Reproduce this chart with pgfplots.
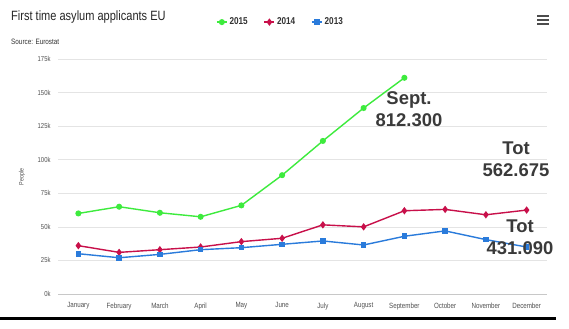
\documentclass[border=0pt]{standalone}
\usepackage{pgfplots}
\pgfplotsset{compat=1.18}
\usepackage{fontspec}
\setmainfont{Liberation Sans}
\newfontfamily\cond[FakeStretch=0.82]{Liberation Sans}
\definecolor{g15}{HTML}{3DEB3D}
\definecolor{r14}{HTML}{C8104A}
\definecolor{b13}{HTML}{2A7BDB}
\definecolor{gridc}{HTML}{E4E4E4}
\definecolor{axc}{HTML}{C8C8C8}
\definecolor{lab}{HTML}{505050}
\definecolor{annot}{HTML}{3A3A3A}
\newcommand{\annot}[2]{%
  \node[align=center, font=\bfseries\fontsize{18.5}{22}\selectfont, text=annot] at (#1) {#2};}
\begin{document}
\begin{tikzpicture}[x=1bp,y=1bp]
\fill[white] (0,0) rectangle (569,328);
\fill[black] (0,8) rectangle (556,11.5);
\node[anchor=west, font=\cond\fontsize{13.5}{15}\selectfont, text=black!85, inner sep=0] at (11,311) {First time asylum applicants EU};
\node[anchor=west, font=\cond\fontsize{7.8}{9}\selectfont, text=black!80, inner sep=0] at (11,286) {Source: Eurostat};
\foreach \yy in {304,308,312} \draw[line width=1.6bp, black!70] (537,\yy) -- (549,\yy);
\node[rotate=90, font=\cond\fontsize{6.5}{7}\selectfont, text=lab] at (22,151) {People};
\begin{axis}[
  at={(58bp,34bp)}, anchor=south west, scale only axis,
  width=489bp, height=235bp,
  xmin=-0.5, xmax=11.5, ymin=0, ymax=175000,
  axis x line*=bottom, axis y line*=left,
  y axis line style={draw=none},
  x axis line style={draw=axc, line width=0.6bp},
  ytick={0,25000,50000,75000,100000,125000,150000,175000},
  yticklabels={0k,25k,50k,75k,100k,125k,150k,175k},
  ytick style={draw=none},
  ymajorgrids, grid style={gridc, line width=0.7bp},
  yticklabel style={font=\cond\fontsize{7.2}{8}\selectfont, text=lab, xshift=-4bp},
  xtick={0,...,11},
  xticklabels={January,February,March,April,May,June,July,August,September,October,November,December},
  xticklabel style={font=\cond\fontsize{7.6}{8}\selectfont, text=lab, yshift=-5bp},
  xtick style={draw=none},
  extra x ticks={-0.5,0.5,...,11.5},
  extra x tick labels={},
  extra x tick style={tick style={draw=axc, line width=0.6bp}, major tick length=8bp, tick align=outside, grid=none},
  scaled y ticks=false,
  clip=false,
  legend columns=3,
  legend style={at={(0.455,1.157)}, anchor=center, draw=none, fill=none,
    font=\cond\bfseries\fontsize{10}{11}\selectfont, text=black!80,
    /tikz/every even column/.append style={column sep=14bp}},
  legend image code/.code={\draw[#1] (0bp,0bp) -- (10bp,0bp); \draw[#1, mark repeat=1] plot coordinates {(5bp,0bp)};},
]
\addplot[g15, line width=1.4bp, mark=*, mark size=2.3bp] coordinates {
(0,60000) (1,65000) (2,60500) (3,57500) (4,66000) (5,88500) (6,114000) (7,138500) (8,161000)};
\addlegendentry{2015}
\addplot[r14, line width=1.4bp, mark=diamond*, mark size=2.6bp] coordinates {
(0,36000) (1,31000) (2,33000) (3,35000) (4,39000) (5,41500) (6,51500) (7,50000) (8,62000) (9,63000) (10,59000) (11,62500)};
\addlegendentry{2014}
\addplot[b13, line width=1.4bp, mark=square*, mark size=2.1bp] coordinates {
(0,30000) (1,27000) (2,29500) (3,33000) (4,34500) (5,37000) (6,39500) (7,36500) (8,43000) (9,47000) (10,40500) (11,35000)};
\addlegendentry{2013}
\end{axis}
\annot{409,219}{Sept.\\812.300}
\annot{516,169}{Tot\\562.675}
\annot{520,91}{Tot\\431.090}
\end{tikzpicture}
\end{document}
